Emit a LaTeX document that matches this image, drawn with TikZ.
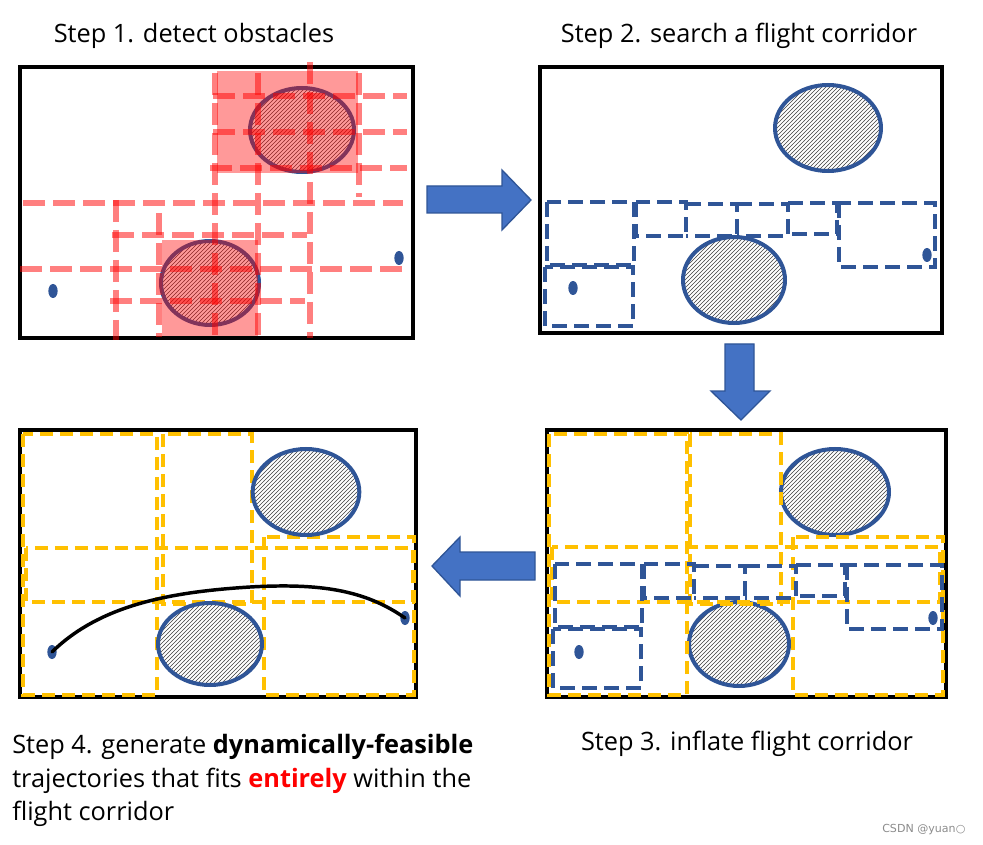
\documentclass[tikz,border=0pt]{standalone}
\usepackage{fontspec}
\setmainfont{Open Sans}
\newfontfamily\wmfont{DejaVu Sans}
\usetikzlibrary{patterns,shapes.geometric}
\definecolor{obblue}{HTML}{2F5597}
\definecolor{arrblue}{HTML}{4472C4}
\definecolor{corryel}{HTML}{FFC000}
\tikzset{
  frame/.style={draw=black, line width=3pt},
  obst/.style={ellipse, draw=obblue, line width=3pt, preaction={fill=white}, pattern=north east lines, pattern color=black!75, inner sep=0pt},
  dotnode/.style={ellipse, fill=obblue, inner sep=0pt, minimum width=7pt, minimum height=10.5pt},
  redbox/.style={fill=red, fill opacity=0.4},
  reddash/.style={draw=red, draw opacity=0.5, line width=5.2pt, dash pattern=on 16.5pt off 6pt},
  bluedash/.style={draw=obblue, line width=3pt, dash pattern=on 11pt off 5.5pt},
  yeldash/.style={draw=corryel, line width=3pt, dash pattern=on 9.5pt off 5.5pt},
  bigarrow/.style={fill=arrblue, draw=obblue, line width=1pt, line join=miter},
  steptext/.style={font=\fontsize{19}{25}\selectfont, inner sep=0pt, anchor=base},
  traj/.style={draw=black, line width=2.6pt, line cap=round}
}
\begin{document}
\begin{tikzpicture}[x=0.75pt, y=-0.75pt]
\useasboundingbox (0,0) rectangle (983,845);

% ---------------- titles ----------------
\node[steptext] (t1) at (194,43) {Step 1. detect obstacles};
\node[steptext] (t2) at (739,43) {Step 2. search a flight corridor};
\node[steptext] (t3) at (747,750) {Step 3. inflate flight corridor};
\node[steptext, anchor=base west] (t4a) at (12,753) {Step 4. generate \textbf{dynamically-feasible}};
\node[steptext, anchor=base west] (t4b) at (12,787) {trajectories that fits \textcolor{red}{\textbf{entirely}} within the};
\node[steptext, anchor=base west] (t4c) at (12,820) {flight corridor};
\node[font=\wmfont\fontsize{8.3}{10}\selectfont, text=black!45, inner sep=0pt, anchor=base west] (wm) at (882,832) {CSDN @yuan○};

% ---------------- panel 1 ----------------
\draw[frame] (20,67) rectangle (413,338);
\node[obst, minimum width=78pt, minimum height=63pt] (e1a) at (302,130) {};
\node[obst, minimum width=73.5pt, minimum height=63pt] (e1b) at (210,283) {};
\node[dotnode] (d1a) at (53,291) {};
\node[dotnode] (d1b) at (399,258) {};
\fill[redbox] (217,71) rectangle (358,173);
\fill[redbox] (162,240) rectangle (258,336);
\draw[reddash] (213,96) -- (407,96);
\draw[reddash] (213,132) -- (407,132);
\draw[reddash] (210,168) -- (407,168);
\draw[reddash] (23,203) -- (403,203);
\draw[reddash] (112,235) -- (307,235);
\draw[reddash] (20,269) -- (407,269);
\draw[reddash] (110,301) -- (305,301);
\draw[reddash] (116,200) -- (116,340);
\draw[reddash] (159,213) -- (159,337);
\draw[reddash] (215,73) -- (215,337);
\draw[reddash] (258,73) -- (258,337);
\draw[reddash] (310,62) -- (310,338);
\draw[reddash] (359,73) -- (359,197);

% ---------------- panel 2 ----------------
\draw[frame] (540,67) rectangle (942,333);
\node[obst, minimum width=79.5pt, minimum height=64.5pt] (e2a) at (828,128) {};
\node[obst, minimum width=76.5pt, minimum height=64.5pt] (e2b) at (734,280) {};
\draw[bluedash] (547,202) rectangle (634,265);
\draw[bluedash] (545,267) rectangle (633,326);
\draw[bluedash] (636,202) rectangle (686,236);
\draw[bluedash] (686,204) -- (737,204) -- (737,236) -- (686,236);
\draw[bluedash] (737,204) -- (788,204) -- (788,236) -- (737,236);
\draw[bluedash] (788,203) -- (837,203) -- (837,234) -- (788,234);
\draw[bluedash] (839,203) rectangle (935,267);
\node[dotnode] (d2a) at (573,288) {};
\node[dotnode] (d2b) at (927,255) {};

% ---------------- panel 3 ----------------
\draw[frame] (547,430) rectangle (946,697);
\node[obst, minimum width=81pt, minimum height=64.5pt] (e3a) at (835,492) {};
\node[obst, minimum width=75pt, minimum height=63pt] (e3b) at (739,644) {};
\draw[yeldash] (549,434) rectangle (687,695);
\draw[yeldash] (690,434) rectangle (781,604);
\draw[yeldash] (552,547) rectangle (940,602);
\draw[yeldash] (793,537) rectangle (943,695);
\draw[bluedash] (555,564) rectangle (642,627);
\draw[bluedash] (553,629) rectangle (641,688);
\draw[bluedash] (644,564) rectangle (694,598);
\draw[bluedash] (694,566) -- (745,566) -- (745,598) -- (694,598);
\draw[bluedash] (745,566) -- (796,566) -- (796,598) -- (745,598);
\draw[bluedash] (796,565) -- (845,565) -- (845,596) -- (796,596);
\draw[bluedash] (847,565) rectangle (942,629);
\node[dotnode] (d3a) at (579,652) {};
\node[dotnode] (d3b) at (933,618) {};

% ---------------- panel 4 ----------------
\draw[frame] (20,430) rectangle (416,697);
\draw[yeldash] (23,434) rectangle (157,695);
\draw[yeldash] (163,434) rectangle (252,604);
\draw[yeldash] (26,548) rectangle (413,602);
\draw[yeldash] (264,537) rectangle (414,695);
\node[obst, minimum width=80pt, minimum height=64.5pt] (e4a) at (306,492) {};
\node[obst, minimum width=78pt, minimum height=61.5pt] (e4b) at (210,644) {};
\node[dotnode] (d4a) at (52,652) {};
\node[dotnode] (d4b) at (405,618) {};
\draw[traj] (d4a.center) .. controls (100,605) and (170,592) .. (250,587)
            .. controls (320,583) and (365,590) .. (d4b.center);

% ---------------- arrows between panels ----------------
\draw[bigarrow] (427,186) -- (502,186) -- (502,170) -- (531,200) -- (502,230) -- (502,213) -- (427,213) -- cycle;
\draw[bigarrow] (725,344) -- (754,344) -- (754,391) -- (770,391) -- (741,420) -- (711,391) -- (725,391) -- cycle;
\draw[bigarrow] (535,552) -- (460,552) -- (460,537) -- (432,566) -- (460,596) -- (460,580) -- (535,580) -- cycle;
\end{tikzpicture}
\end{document}
